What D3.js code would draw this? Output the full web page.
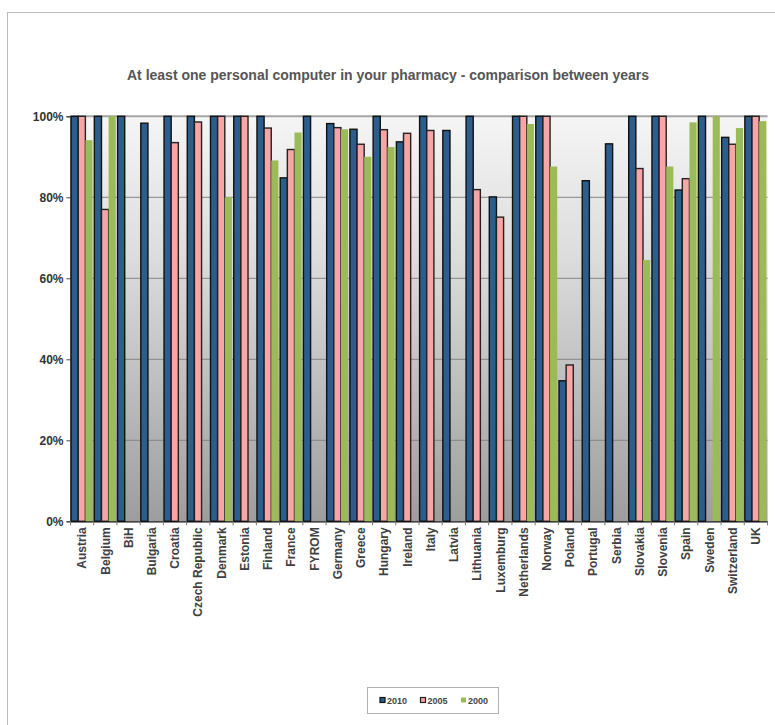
<!DOCTYPE html>
<html><head><meta charset="utf-8">
<script src="https://cdn.jsdelivr.net/npm/d3@7"></script>
<style>body{margin:0;background:#fff}svg{display:block;font-family:"Liberation Sans",Arial,sans-serif}</style>
</head><body><svg id="c" width="775" height="725"></svg>
<script>
const categories = ["Austria","Belgium","BiH","Bulgaria","Croatia","Czech Republic","Denmark","Estonia","Finland","France","FYROM","Germany","Greece","Hungary","Ireland","Italy","Latvia","Lithuania","Luxemburg","Netherlands","Norway","Poland","Portugal","Serbia","Slovakia","Slovenia","Spain","Sweden","Switzerland","UK"];
const series = ["2010","2005","2000"];
const v2010 = [100,100,100,98.3,100,100,100,100,100,84.8,100,98.2,96.8,100,93.7,100,96.5,100,80.1,100,100,34.7,84.1,93.2,100,100,81.8,100,94.8,100];
const v2005 = [100,77.0,null,null,93.5,98.6,100,100,97.1,91.8,null,97.2,93.1,96.7,95.8,96.5,null,81.9,75.1,100,100,38.6,null,null,87.1,100,84.6,null,93.1,100];
const v2000 = [94.1,100,null,null,null,null,80,null,89.1,96.0,null,96.8,90.0,92.4,null,null,null,null,null,98.1,87.6,null,null,null,64.5,87.6,98.5,100,97.1,98.8];
const yTicks = [0,20,40,60,80,100];
const title = "At least one personal computer in your pharmacy - comparison between years";
const colors = {"2010":"#2b5d8d","2005":"#f7a5a5","2000":"#9bbb59"};
const strokes = {"2010":"#111","2005":"#222","2000":"none"};
const values = {"2010":v2010,"2005":v2005,"2000":v2000};

const svg = d3.select("#c");
svg.append("rect").attr("x",7.5).attr("y",12.5).attr("width",900).attr("height",900)
  .attr("fill","#fff").attr("stroke","#bdbdbd").attr("stroke-width",1);

const L=70.5, R=767.5, T=116.3, B=521.3;
const x = d3.scaleBand().domain(categories).range([L,R]).paddingInner(0).paddingOuter(0);
const xs = d3.scaleBand().domain(series).range([0.6, x.bandwidth()-1.2]).padding(0);
const y = d3.scaleLinear().domain([0,100]).range([B,T]);

const defs = svg.append("defs");
const g = defs.append("linearGradient").attr("id","bg").attr("x1",0).attr("y1",0).attr("x2",0).attr("y2",1);
g.append("stop").attr("offset","0%").attr("stop-color","#f5f5f5");
g.append("stop").attr("offset","35%").attr("stop-color","#dcdcdc");
g.append("stop").attr("offset","100%").attr("stop-color","#9d9d9d");
svg.append("rect").attr("x",L).attr("y",T).attr("width",R-L).attr("height",B-T).attr("fill","url(#bg)");

svg.append("g").selectAll("line").data(yTicks.filter(d=>d>0)).join("line")
  .attr("x1",L).attr("x2",R).attr("y1",d=>y(d)).attr("y2",d=>y(d))
  .attr("stroke",d=>d===100?"#a6a6a6":"#858585").attr("stroke-width",d=>d===100?2:1);

const grp = svg.append("g").selectAll("g").data(categories).join("g")
  .attr("transform",d=>`translate(${x(d)},0)`);
grp.selectAll("rect").data((d,i)=>series.map(s=>({s,v:values[s][i]})).filter(o=>o.v!=null)).join("rect")
  .attr("x",o=>xs(o.s)).attr("width",xs.bandwidth())
  .attr("y",o=>y(o.v)).attr("height",o=>B-y(o.v))
  .attr("fill",o=>colors[o.s]).attr("stroke",o=>strokes[o.s]).attr("stroke-width",1.4);

const ya = svg.append("g").attr("transform",`translate(${L},0)`)
  .call(d3.axisLeft(y).tickValues(yTicks).tickFormat(d=>d+"%").tickSize(4).tickPadding(3));
ya.select(".domain").attr("stroke","#222");
ya.selectAll(".tick line").attr("stroke","#444");
ya.selectAll("text").attr("font-size",12).attr("font-weight","bold").attr("fill","#333")
  .attr("font-family","Liberation Sans, Arial, sans-serif");

const xa = svg.append("g").attr("transform",`translate(0,${B})`)
  .call(d3.axisBottom(x).tickSize(0).tickPadding(0));
xa.select(".domain").attr("stroke","#111").attr("stroke-width",1.3);
xa.selectAll(".tick text").attr("transform","rotate(-90)").attr("text-anchor","end")
  .attr("x",-6).attr("y",0).attr("dy","0.35em")
  .attr("font-size",12).attr("font-weight","bold").attr("fill","#404040")
  .attr("font-family","Liberation Sans, Arial, sans-serif");
svg.append("g").selectAll("line").data(d3.range(categories.length+1)).join("line")
  .attr("x1",i=>L+i*x.step()).attr("x2",i=>L+i*x.step()).attr("y1",B).attr("y2",B+4)
  .attr("stroke","#777");

svg.append("text").attr("x",388).attr("y",80).attr("text-anchor","middle")
  .attr("font-size",14).attr("font-weight","bold").attr("fill","#555").text(title);

const lg = svg.append("g");
lg.append("rect").attr("x",367.5).attr("y",687.5).attr("width",131).attr("height",26)
  .attr("fill","#fff").attr("stroke","#b0b0b0");
const lx = d3.scalePoint().domain(series).range([380,461]);
series.forEach(s=>{
  lg.append("rect").attr("x",lx(s)).attr("y",697.5).attr("width",5).attr("height",5)
    .attr("fill",colors[s]).attr("stroke",strokes[s]).attr("stroke-width",1.2);
  lg.append("text").attr("x",lx(s)+7).attr("y",704).attr("font-size",9).attr("font-weight","bold")
    .attr("fill","#444").text(s);
});
</script></body></html>
